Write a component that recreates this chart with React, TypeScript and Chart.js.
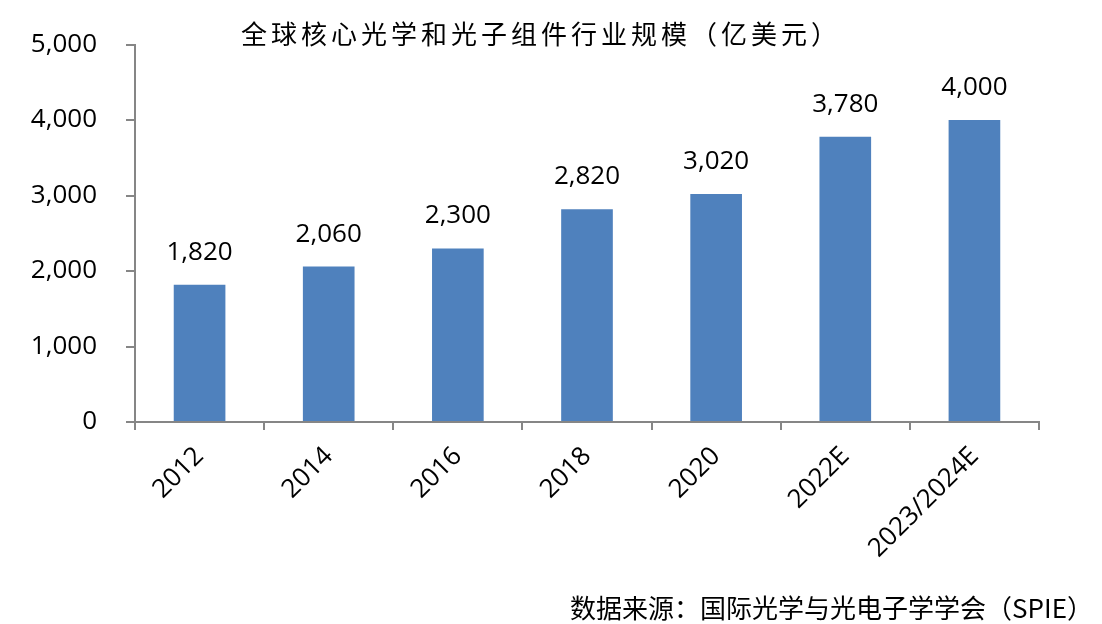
import { useEffect, useRef } from 'react'
import { Chart, registerables } from 'chart.js'

Chart.register(...registerables)

const years = ['2012', '2014', '2016', '2018', '2020', '2022E', '2023/2024E']
const sizes = [1820, 2060, 2300, 2820, 3020, 3780, 4000]
const yTicks = [0, 1000, 2000, 3000, 4000, 5000]
const titleText = '全球核心光学和光子组件行业规模（亿美元）'
const sourceText = '数据来源：国际光学与光电子学学会（SPIE）'

const fmt = (v: number) => v.toLocaleString('en-US')

const decor = {
  id: 'decor',
  afterDatasetsDraw(chart: Chart) {
    const ctx = chart.ctx as any
    ctx.save()
    ctx.fillStyle = '#000'
    ctx.font = '26px "Open Sans"'
    ctx.textAlign = 'center'
    ctx.textBaseline = 'alphabetic'
    chart.getDatasetMeta(0).data.forEach((bar: any, i: number) => {
      ctx.fillText(fmt(sizes[i]), bar.x, bar.y - 25)
    })
    ctx.textAlign = 'left'
    ctx.textBaseline = 'middle'
    ctx.font = '26px "Noto Sans CJK SC"'
    ctx.letterSpacing = '4px'
    ctx.fillText(titleText, 241, 34)
    ctx.font = '26px "Noto Sans CJK SC"'
    ctx.letterSpacing = '0px'
    ctx.textAlign = 'right'
    ctx.fillText(sourceText, 1093, 608)
    ctx.restore()
  },
}

export default function App() {
  const canvasRef = useRef<HTMLCanvasElement>(null)

  useEffect(() => {
    if (!canvasRef.current) return
    const axisColor = '#868686'
    const chart = new Chart(canvasRef.current, {
      type: 'bar',
      data: {
        labels: years,
        datasets: [
          {
            label: titleText,
            data: sizes,
            backgroundColor: '#4F81BD',
            categoryPercentage: 1,
            barPercentage: 0.4,
          },
        ],
      },
      options: {
        animation: false,
        responsive: true,
        maintainAspectRatio: false,
        layout: { padding: { left: 0, top: 43, right: 63, bottom: 0 } },
        plugins: {
          legend: { display: false },
          tooltip: { enabled: false },
          title: { display: false },
        },
        scales: {
          x: {
            grid: { drawOnChartArea: false, drawTicks: true, tickLength: 8, color: axisColor, lineWidth: 2, offset: true },
            border: { color: axisColor, width: 2 },
            ticks: {
              color: '#000',
              font: { family: '"Open Sans"', size: 26 },
              minRotation: 45,
              maxRotation: 45,
              padding: 11,
              autoSkip: false,
            },
            afterFit: (scale: any) => { scale.height = 202 },
          },
          y: {
            min: 0,
            max: 5000,
            afterBuildTicks: (scale: any) => { scale.ticks = yTicks.map(v => ({ value: v })) },
            grid: { drawOnChartArea: false, drawTicks: true, tickLength: 9, color: axisColor, lineWidth: 2 },
            border: { color: axisColor, width: 2 },
            ticks: {
              color: '#000',
              font: { family: '"Open Sans"', size: 26 },
              padding: 29,
              callback: (v: number | string) => fmt(Number(v)),
            },
            afterFit: (scale: any) => { scale.width = 135 },
          },
        },
      },
      plugins: [decor],
    })
    return () => chart.destroy()
  }, [])

  return (
    <div style={{ position: 'fixed', left: 0, top: 0, width: 1102, height: 624, background: '#fff' }}>
      <canvas ref={canvasRef} />
    </div>
  )
}
